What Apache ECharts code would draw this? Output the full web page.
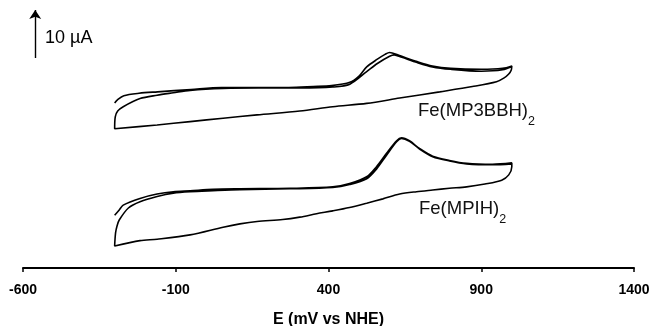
<!DOCTYPE html>
<html>
<head>
<meta charset="utf-8">
<script src="https://cdn.jsdelivr.net/npm/echarts@6.0.0/dist/echarts.min.js"></script>
<style>
  html, body { margin: 0; padding: 0; background: #fff; }
  #chart { width: 650px; height: 326px; }
</style>
</head>
<body>
<div id="chart"></div>
<script>
// potential in mV vs NHE, current in uA (curves drawn with their vertical offset)
const xTicks = [-600, -100, 400, 900, 1400];

// Fe(MP3BBH)2 : first forward scan, reverse scan, second forward scan
const topFwd1 = [[-300,34.4],[-290,35.1],[-270,35.9],[-220,36.4],[-160,36.7],[-50,37.2],[50,37.6],[170,37.6],[270,37.6],[350,37.8],[410,38.0],[470,38.7],[500,40.0],[525,41.9],[560,43.5],[585,44.5],[600,44.9],[630,44.3],[690,43.0],[740,42.1],[800,41.6],[900,41.4],[970,41.6],[1000,42.1]];
const topRev = [[998,41.2],[990,40.4],[975,39.6],[950,38.8],[871,37.8],[764,36.7],[633,35.4],[525,34.3],[414,33.6],[306,32.7],[166,31.9],[55,31.2],[-53,30.5],[-161,29.8],[-300,29.0]];
const topFwd2 = [[-298,31.5],[-290,32.7],[-272,33.6],[-217,35.3],[-161,36.0],[-108,36.5],[-53,37.0],[55,37.4],[170,37.5],[306,37.5],[414,37.7],[470,38.3],[525,40.9],[560,42.6],[600,44.1],[615,44.4],[640,43.9],[690,42.8],[740,41.9],[800,41.4],[900,41.0],[970,41.3],[1000,42.0]];

// Fe(MPIH)2
const botFwd1 = [[-300,11.0],[-285,12.1],[-272,13.1],[-217,14.5],[-161,15.4],[-108,15.9],[-53,16.1],[22,16.4],[110,16.5],[274,16.6],[414,16.9],[469,17.6],[525,19.0],[557,21.1],[590,23.9],[623,26.5],[639,27.1],[665,26.5],[698,24.9],[741,23.3],[796,22.4],[852,21.8],[937,21.6],[1000,21.9]];
const botRev = [[1000,21.1],[990,19.4],[967,18.3],[912,17.5],[852,16.9],[796,16.6],[741,16.25],[688,15.9],[633,15.4],[578,14.4],[525,13.5],[469,12.6],[414,11.9],[361,11.3],[306,10.6],[250,10.1],[166,9.7],[110,9.2],[55,8.5],[-53,6.9],[-161,6.0],[-217,5.7],[-300,4.6]];
const botFwd2 = [[-297,7.3],[-292,8.8],[-285,10.0],[-255,12.5],[-217,13.8],[-161,14.9],[-108,15.6],[-53,15.9],[22,16.1],[110,16.3],[274,16.5],[414,16.8],[469,17.4],[525,18.6],[557,20.6],[590,23.5],[623,26.3],[639,27.0],[665,26.4],[698,24.8],[741,23.2],[796,22.3],[852,21.7],[937,21.5],[1000,21.7]];

// 10 uA scale bar
const scaleBarX = -560;
const scaleBarY = [43.75, 53.75];

const chart = echarts.init(document.getElementById('chart'));

const lineStyle = { color: '#000', width: 1.6 };
const labelRich = {
  a: { fontFamily: 'Liberation Sans', fontSize: 18.5, fill: '#111', lineHeight: 21, verticalAlign: 'top' },
  b: { fontFamily: 'Liberation Sans', fontSize: 12.5, fill: '#111', lineHeight: 27, verticalAlign: 'bottom' }
};

const option = {
  animation: false,
  grid: { left: 23, right: 16, top: 0, bottom: 58, outerBoundsMode: 'none' },
  xAxis: {
    type: 'value',
    min: xTicks[0],
    max: xTicks[xTicks.length - 1],
    interval: 500,
    name: 'E (mV vs NHE)',
    nameLocation: 'middle',
    nameGap: 44,
    nameTextStyle: { fontFamily: 'Liberation Sans', fontWeight: 'bold', fontSize: 16, color: '#000' },
    axisLine: { onZero: false, lineStyle: { color: '#000', width: 2 } },
    axisTick: { length: 4, lineStyle: { color: '#000', width: 1.5 } },
    axisLabel: {
      margin: 15, fontFamily: 'Liberation Sans', fontWeight: 'bold', fontSize: 14, color: '#000',
      formatter: (v) => String(v)
    },
    splitLine: { show: false }
  },
  yAxis: {
    type: 'value',
    min: 0,
    max: 268 / 4.8,
    show: false
  },
  series: [
    {
      type: 'line',
      data: [...topFwd1, ...topRev, ...topFwd2],
      symbol: 'none',
      smooth: 0.3,
      lineStyle: lineStyle,
      markLine: {
        silent: true,
        symbol: ['none', 'arrow'],
        symbolSize: 9,
        label: { show: false },
        lineStyle: { color: '#000', width: 1.4, type: 'solid' },
        data: [[{ coord: [scaleBarX, scaleBarY[0]] }, { coord: [scaleBarX, scaleBarY[1]] }]]
      }
    },
    {
      type: 'line',
      data: [...botFwd1, ...botRev, ...botFwd2],
      symbol: 'none',
      smooth: 0.3,
      lineStyle: lineStyle
    }
  ],
  graphic: [
    {
      type: 'text', left: 45, top: 29,
      style: { text: '10 µA', fontFamily: 'Liberation Sans', fontSize: 18, fill: '#000' }
    },
    {
      type: 'text', left: 418, top: 101,
      style: { text: '{a|Fe(MP3BBH)}{b|2}', rich: labelRich }
    },
    {
      type: 'text', left: 419, top: 199,
      style: { text: '{a|Fe(MPIH)}{b|2}', rich: labelRich }
    }
  ]
};

chart.setOption(option);
</script>
</body>
</html>
